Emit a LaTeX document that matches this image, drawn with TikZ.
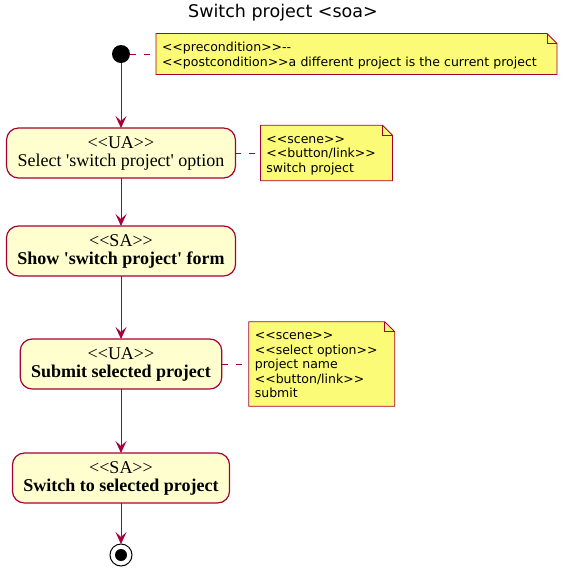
\documentclass[tikz,border=0pt]{standalone}
\usepackage{fontspec}
\setmainfont{Liberation Serif}
\newfontfamily\notefont{DejaVu Sans}
\usetikzlibrary{arrows.meta, positioning, backgrounds}

\definecolor{umlred}{HTML}{A80036}
\definecolor{actfill}{HTML}{FEFECE}
\definecolor{notefill}{HTML}{FBFB77}

\newcommand{\stereo}[1]{<{}<#1>{}>}
\newcommand{\drawnote}[1]{%
  \begin{pgfonlayer}{background}
    \filldraw[fill=notefill, draw=umlred, line width=0.8pt] (#1.south west) -- (#1.north west) -- ([xshift=-10pt]#1.north east) -- ([yshift=-10pt]#1.north east) -- (#1.south east) -- cycle;
    \draw[umlred, line width=0.8pt] ([xshift=-10pt]#1.north east) |- ([yshift=-10pt]#1.north east);
  \end{pgfonlayer}}

\begin{document}
\begin{tikzpicture}[
    x=1pt, y=1pt,
    >={Stealth[length=12pt, width=11pt, inset=5pt]},
    act/.style={rectangle, rounded corners=12pt, draw=umlred, line width=1.2pt, fill=actfill, align=center, minimum height=50pt, inner xsep=11pt, inner ysep=3pt, outer sep=0pt, font=\fontsize{18}{18}\selectfont},
    note/.style={rectangle, align=left, inner xsep=6pt, inner ysep=5pt, outer sep=0pt, font=\notefont\fontsize{12.5}{14.5}\selectfont,
        execute at begin node=\rule{0pt}{13pt}, execute at end node=\rule[-3.5pt]{0pt}{3.5pt}},
    startdot/.style={circle, fill=black, minimum size=18pt, inner sep=0pt, outer sep=0pt},
    stopdot/.style={circle, draw=black, fill=white, line width=1pt, minimum size=22pt, inner sep=0pt, outer sep=0pt, path picture={\fill[black] (path picture bounding box.center) circle (6pt);}},
    arrow/.style={->, draw=umlred, line width=1pt},
    dashline/.style={draw=umlred, line width=1pt, dash pattern=on 6pt off 8pt}
]
\useasboundingbox (0,0) rectangle (568,-571);

% TITLE
\node[font=\notefont\fontsize{17.5}{20}\selectfont, anchor=base] (title) at (283,-17) {Switch project <soa>};

% ACTIVITY FLOW
\node[startdot] (start) at (121,-54) {};
\node[act, below=65pt of start] (select) {\stereo{UA}\\Select \textquotesingle switch project\textquotesingle{} option};
\node[act, below=48pt of select] (show) {\stereo{SA}\\\textbf{Show \textquotesingle switch project\textquotesingle{} form}};
\node[act, below=63pt of show] (submit) {\stereo{UA}\\\textbf{Submit selected project}};
\node[act, below=64pt of submit] (switch) {\stereo{SA}\\\textbf{Switch to selected project}};
\node[stopdot, below=41pt of switch] (stop) {};

\draw[arrow] (start) -- (select);
\draw[arrow] (select) -- (show);
\draw[arrow] (show) -- (submit);
\draw[arrow] (submit) -- (switch);
\draw[arrow] (switch) -- (stop);

% NOTES
\node[note, text width=389pt, right=26pt of start] (cond) {\stereo{precondition}-{}-\\\stereo{postcondition}a different project is the current project};
\node[note, text width=120pt, right=25pt of select] (scene1) {\stereo{scene}\\\stereo{button/link}\\switch project};
\node[note, text width=134pt, right=27pt of submit] (scene2) {\stereo{scene}\\\stereo{select option}\\project name\\\stereo{button/link}\\submit};
\drawnote{cond}
\drawnote{scene1}
\drawnote{scene2}

\draw[dashline] (start) -- (cond);
\draw[dashline] (select) -- (scene1);
\draw[dashline] (submit) -- (scene2);

\end{tikzpicture}
\end{document}
